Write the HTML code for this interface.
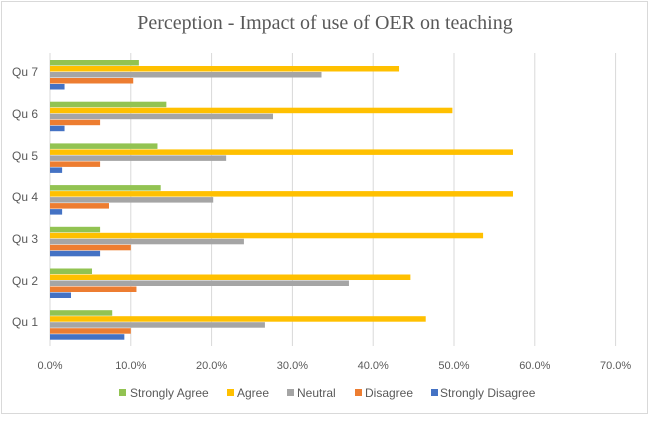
<!DOCTYPE html>
<html><head><meta charset="utf-8"><style>
body{margin:0;background:#fff}
svg text{font-family:"Liberation Sans",sans-serif;fill:#595959}
</style></head><body>
<svg width="650" height="416" xmlns="http://www.w3.org/2000/svg">
<rect x="1.5" y="1.5" width="646" height="412" fill="#fff" stroke="#d9d9d9"/>
<text x="325" y="29" text-anchor="middle" style="font-family:'Liberation Serif',serif;font-size:20px;fill:#595959">Perception - Impact of use of OER on teaching</text>
<g stroke="#d9d9d9" stroke-width="1">
<line x1="50" y1="53" x2="50" y2="346"/>
<line x1="130.8" y1="53" x2="130.8" y2="346"/>
<line x1="211.6" y1="53" x2="211.6" y2="346"/>
<line x1="292.4" y1="53" x2="292.4" y2="346"/>
<line x1="373.2" y1="53" x2="373.2" y2="346"/>
<line x1="454" y1="53" x2="454" y2="346"/>
<line x1="534.8" y1="53" x2="534.8" y2="346"/>
<line x1="615.6" y1="53" x2="615.6" y2="346"/>
</g>
<g id="bars"></g>
<g font-size="12">
<text x="12" y="76" style="font-size:12px">Qu 7</text>
<text x="12" y="118" style="font-size:12px">Qu 6</text>
<text x="12" y="160" style="font-size:12px">Qu 5</text>
<text x="12" y="201" style="font-size:12px">Qu 4</text>
<text x="12" y="243" style="font-size:12px">Qu 3</text>
<text x="12" y="285" style="font-size:12px">Qu 2</text>
<text x="12" y="326" style="font-size:12px">Qu 1</text>
</g>
<g style="font-size:11px" text-anchor="middle">
<text x="50" y="369" style="font-size:11px" text-anchor="middle">0.0%</text>
<text x="130.8" y="369" style="font-size:11px" text-anchor="middle">10.0%</text>
<text x="211.6" y="369" style="font-size:11px" text-anchor="middle">20.0%</text>
<text x="292.4" y="369" style="font-size:11px" text-anchor="middle">30.0%</text>
<text x="373.2" y="369" style="font-size:11px" text-anchor="middle">40.0%</text>
<text x="454" y="369" style="font-size:11px" text-anchor="middle">50.0%</text>
<text x="534.8" y="369" style="font-size:11px" text-anchor="middle">60.0%</text>
<text x="615.6" y="369" style="font-size:11px" text-anchor="middle">70.0%</text>
</g>
<rect x="119" y="389" width="7" height="7" fill="#92c352"/><text x="130" y="397" style="font-size:12px">Strongly Agree</text>
<rect x="227" y="389" width="7" height="7" fill="#ffc000"/><text x="237" y="397" style="font-size:12px">Agree</text>
<rect x="287" y="389" width="7" height="7" fill="#a5a5a5"/><text x="297" y="397" style="font-size:12px">Neutral</text>
<rect x="355" y="389" width="7" height="7" fill="#ed7d31"/><text x="365" y="397" style="font-size:12px">Disagree</text>
<rect x="431" y="389" width="7" height="7" fill="#4472c4"/><text x="440" y="397" style="font-size:12px">Strongly Disagree</text>
</svg>
<script>
var d=[[11.0,43.2,33.6,10.3,1.8],[14.4,49.8,27.6,6.2,1.8],[13.3,57.3,21.8,6.2,1.5],[13.7,57.3,20.2,7.3,1.5],[6.2,53.6,24.0,10.0,6.2],[5.2,44.6,37.0,10.7,2.6],[7.7,46.5,26.6,10.0,9.2]];
var c=["#92c352","#ffc000","#a5a5a5","#ed7d31","#4472c4"];
var g=document.getElementById("bars"),s="";
for(var i=0;i<7;i++){var y0=60+i*41.7;for(var j=0;j<5;j++){s+='<rect x="50" y="'+(y0+j*6)+'" width="'+(d[i][j]*8.08)+'" height="5.5" fill="'+c[j]+'"/>';}}
g.innerHTML=s;
</script>
</body></html>
